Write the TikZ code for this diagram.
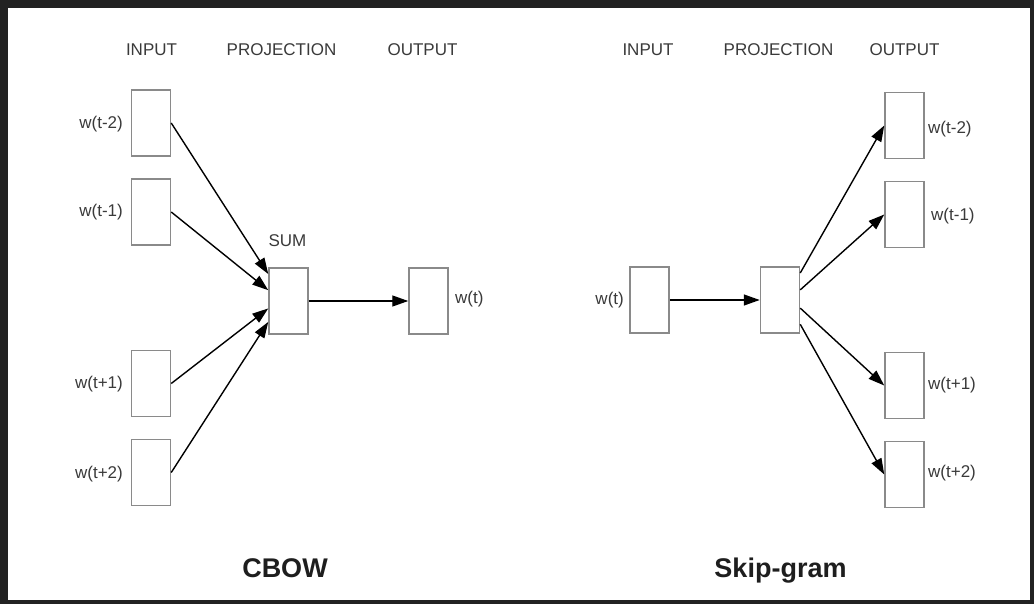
\documentclass[tikz,border=0pt]{standalone}
\usepackage{fontspec}
\setmainfont{Liberation Sans}
\usetikzlibrary{arrows.meta,calc}
\definecolor{frame}{HTML}{222222}
\definecolor{boxline}{HTML}{8A8A8A}
\definecolor{txt}{HTML}{3A3A3A}
\definecolor{title}{HTML}{1E1E1E}
\tikzset{
  vecbox/.style={draw=boxline,line width=1.5pt,fill=white,minimum width=39pt,minimum height=66pt,inner sep=0pt},
  lbl/.style={text=txt,font=\fontsize{17pt}{20pt}\selectfont,inner sep=0pt},
  ttl/.style={text=title,font=\fontsize{27pt}{30pt}\selectfont\bfseries,inner sep=0pt},
  conn/.style={draw=black,line width=1.4pt,-{Stealth[inset=0pt,length=16pt,width=11pt]}}
}
\begin{document}
\begin{tikzpicture}[x=1pt,y=-1pt]
\useasboundingbox (0,0) rectangle (1034,604);
\fill[frame] (0,0) rectangle (1034,604);
\fill[white] (8,8) rectangle (1030,600);
% headers
\node[lbl] (h1) at (151.5,50) {INPUT};
\node[lbl] (h2) at (281.5,50) {PROJECTION};
\node[lbl] (h3) at (422.5,50) {OUTPUT};
\node[lbl] (h4) at (648,50) {INPUT};
\node[lbl] (h5) at (778.5,50) {PROJECTION};
\node[lbl] (h6) at (904.5,50) {OUTPUT};
% CBOW
\node[vecbox] (c1) at (151,123) {};
\node[vecbox] (c2) at (151,212) {};
\node[vecbox] (c3) at (151,383.5) {};
\node[vecbox] (c4) at (151,472.5) {};
\node[vecbox] (sum) at (288.5,301) {};
\node[vecbox] (cout) at (428.5,301) {};
\node[lbl,anchor=east] (lc1) at (123,124) {w(t-2)};
\node[lbl,anchor=east] (lc2) at (123,212) {w(t-1)};
\node[lbl,anchor=east] (lc3) at (123,384) {w(t+1)};
\node[lbl,anchor=east] (lc4) at (123,474) {w(t+2)};
\node[lbl] (lsum) at (287.5,241) {SUM};
\node[lbl,anchor=west] (lcout) at (455,299) {w(t)};
\coordinate (s1) at ($(sum.north west)!0.1!(sum.south west)$);
\coordinate (s2) at ($(sum.north west)!0.34!(sum.south west)$);
\coordinate (s3) at ($(sum.north west)!0.61!(sum.south west)$);
\coordinate (s4) at ($(sum.north west)!0.81!(sum.south west)$);
\draw[conn] (c1.east) -- (s1);
\draw[conn] (c2.east) -- (s2);
\draw[conn] (c3.east) -- (s3);
\draw[conn] (c4.east) -- (s4);
\draw[conn] (sum.east) -- (cout.west);
\node[ttl,anchor=base] (tc) at (285,577) {CBOW};
% Skip-gram
\node[vecbox] (sin) at (649.5,300) {};
\node[vecbox] (proj) at (780,300) {};
\node[vecbox] (o1) at (904.5,125.5) {};
\node[vecbox] (o2) at (904.5,214.5) {};
\node[vecbox] (o3) at (904.5,385.5) {};
\node[vecbox] (o4) at (904.5,474.5) {};
\node[lbl,anchor=east] (lsin) at (624,300) {w(t)};
\node[lbl,anchor=west] (lo1) at (928,129) {w(t-2)};
\node[lbl,anchor=west] (lo2) at (931,216) {w(t-1)};
\node[lbl,anchor=west] (lo3) at (928,385) {w(t+1)};
\node[lbl,anchor=west] (lo4) at (928,473) {w(t+2)};
\coordinate (p1) at ($(proj.north east)!0.1!(proj.south east)$);
\coordinate (p2) at ($(proj.north east)!0.35!(proj.south east)$);
\coordinate (p3) at ($(proj.north east)!0.62!(proj.south east)$);
\coordinate (p4) at ($(proj.north east)!0.86!(proj.south east)$);
\draw[conn] (sin.east) -- (proj.west);
\draw[conn] (p1) -- (o1.west);
\draw[conn] (p2) -- (o2.west);
\draw[conn] (p3) -- (o3.west);
\draw[conn] (p4) -- (o4.west);
\node[ttl,anchor=base] (ts) at (780.5,577) {Skip-gram};
\end{tikzpicture}
\end{document}
